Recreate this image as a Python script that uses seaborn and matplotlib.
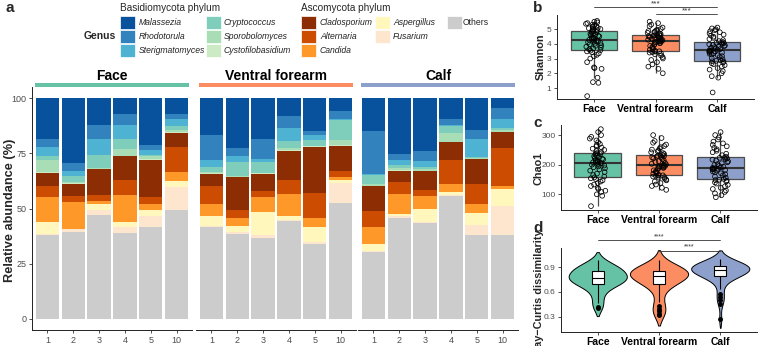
import matplotlib
matplotlib.use("Agg")
import numpy as np
import pandas as pd
import matplotlib.pyplot as plt
from matplotlib.patches import Rectangle
import seaborn as sns

# ---- data ----
sites = ["Face", "Ventral forearm", "Calf"]
site_colors = ["#66c2a5", "#fc8d62", "#8da0cb"]
samples = ["1", "2", "3", "4", "5", "10"]

genera = ["Malassezia", "Rhodotorula", "Sterigmatomyces", "Cryptococcus",
          "Sporobolomyces", "Cystofilobasidium", "Cladosporium", "Alternaria",
          "Candida", "Aspergillus", "Fusarium", "Others"]
genus_colors = ["#08519c", "#3182bd", "#4eb3d3", "#7fcdbb", "#a8ddb5", "#ccebc5",
                "#8c2d04", "#cc4c02", "#fe9929", "#fff7bc", "#fee6ce", "#cccccc"]

# relative abundance (%), order: Face 1,2,3,4,5,10 | Ventral forearm ... | Calf ...
malassezia = [18.4, 29.5, 12.4, 7.3, 21.1, 7.1, 16.9, 22.7, 18.4, 8.0, 14.8, 6.0, 15.1, 25.2, 23.9, 9.5, 14.4, 4.5]
rhodotorula = [3.8, 3.4, 6.2, 4.8, 2.3, 2.4, 11.3, 3.4, 9.1, 5.3, 1.8, 3.5, 19.3, 2.7, 4.8, 2.8, 4.2, 5.0]
sterigmatomyces = [4.2, 2.3, 7.1, 6.5, 2.3, 3.0, 2.8, 2.9, 1.2, 6.0, 2.3, 0.3, 0.3, 2.3, 2.7, 0.5, 8.1, 4.0]
cryptococcus = [1.8, 3.0, 6.0, 4.5, 0.7, 1.9, 2.7, 6.2, 5.1, 3.0, 2.7, 9.4, 4.3, 1.5, 0.8, 3.0, 0.3, 1.0]
sporobolomyces = [5.5, 0.5, 0.3, 3.0, 1.2, 1.0, 0.4, 0.5, 0.3, 1.0, 0.3, 2.1, 0.7, 0.9, 0.7, 4.0, 0.5, 0.8]
cystofilobasidium = [0.3, 0.3, 0.2, 0.3, 0.3, 0.3, 0.2, 0.3, 0.2, 0.3, 0.3, 0.3, 0.3, 0.3, 0.2, 0.3, 0.3, 0.2]
cladosporium = [5.6, 5.5, 11.6, 10.9, 16.7, 6.3, 5.7, 14.8, 7.9, 13.3, 20.9, 11.2, 11.1, 5.2, 8.6, 8.1, 11.3, 7.0]
alternaria = [5.4, 2.5, 2.7, 6.5, 3.3, 11.3, 7.9, 3.8, 2.7, 5.9, 11.3, 3.0, 7.4, 5.3, 2.6, 10.6, 9.1, 17.5]
candida = [11.3, 12.3, 1.4, 12.5, 3.0, 4.3, 5.7, 3.5, 6.8, 10.2, 3.8, 1.5, 7.5, 9.0, 6.1, 3.8, 3.9, 1.0]
aspergillus = [5.2, 0.3, 3.0, 2.2, 2.7, 2.5, 4.1, 2.5, 10.4, 1.5, 7.1, 1.2, 3.2, 1.2, 5.8, 1.4, 5.6, 8.0]
fusarium = [0.4, 1.0, 2.0, 2.4, 4.6, 10.6, 0.5, 1.1, 1.2, 0.4, 0.7, 8.8, 0.3, 0.8, 0.3, 0.3, 4.5, 13.0]
others = [38.1, 39.6, 47.1, 39.1, 41.8, 49.4, 41.8, 38.5, 36.6, 44.1, 34.0, 52.7, 30.5, 45.6, 43.7, 55.7, 38.1, 38.0]

abundance = [malassezia, rhodotorula, sterigmatomyces, cryptococcus, sporobolomyces,
             cystofilobasidium, cladosporium, alternaria, candida, aspergillus, fusarium, others]

shannon_face = [0.45, 1.35, 1.4, 1.7, 2.3, 2.35, 2.4, 2.75, 3.0, 3.15, 3.25, 3.35, 3.42, 3.48, 3.53,
                3.57, 3.62, 3.68, 3.75, 3.8, 3.86, 3.9, 3.96, 4.0, 4.05, 4.1, 4.14, 4.18, 4.21, 4.24,
                4.27, 4.32, 4.36, 4.4, 4.45, 4.5, 4.54, 4.58, 4.62, 4.66, 4.7, 4.75, 4.8, 4.84, 4.88,
                4.92, 4.96, 5.0, 5.05, 5.08, 5.12, 5.16, 5.2, 5.25, 5.3, 5.35, 5.4, 5.45, 5.5, 5.55]
shannon_forearm = [2.0, 2.3, 2.45, 2.6, 2.75, 2.9, 3.0, 3.1, 3.2, 3.28, 3.34, 3.4, 3.44, 3.47, 3.49,
                   3.52, 3.58, 3.65, 3.72, 3.8, 3.86, 3.92, 3.98, 4.03, 4.07, 4.1, 4.13, 4.16, 4.18, 4.19,
                   4.21, 4.24, 4.27, 4.3, 4.33, 4.36, 4.39, 4.42, 4.45, 4.48, 4.5, 4.53, 4.55, 4.57, 4.59,
                   4.62, 4.66, 4.7, 4.74, 4.78, 4.82, 4.86, 4.9, 4.95, 5.0, 5.1, 5.2, 5.3, 5.4, 5.5]
shannon_calf = [0.7, 1.7, 1.8, 2.0, 2.15, 2.25, 2.35, 2.45, 2.55, 2.62, 2.68, 2.73, 2.78, 2.81, 2.84,
                2.87, 2.95, 3.02, 3.1, 3.16, 3.22, 3.27, 3.32, 3.36, 3.4, 3.44, 3.47, 3.5, 3.52, 3.54,
                3.56, 3.6, 3.64, 3.68, 3.72, 3.76, 3.8, 3.84, 3.88, 3.92, 3.96, 4.0, 4.04, 4.07, 4.09,
                4.12, 4.18, 4.25, 4.32, 4.4, 4.48, 4.55, 4.62, 4.7, 4.78, 4.85, 4.92, 4.98, 5.04, 5.1]

chao1_face = [60, 95, 100, 108, 112, 118, 122, 128, 133, 138, 143, 147, 151, 154, 157,
              160, 165, 170, 175, 180, 184, 188, 191, 194, 197, 200, 202, 204, 205, 206,
              208, 210, 212, 214, 216, 218, 220, 222, 225, 228, 231, 234, 236, 238, 239,
              242, 246, 250, 254, 258, 262, 266, 270, 276, 282, 288, 294, 300, 310, 320]
chao1_forearm = [115, 122, 128, 133, 138, 143, 147, 150, 153, 156, 158, 160, 162, 163, 164,
                 166, 169, 172, 175, 178, 181, 184, 187, 189, 191, 193, 194, 195, 196, 197,
                 199, 201, 203, 206, 209, 212, 215, 218, 221, 223, 225, 227, 229, 230, 231,
                 233, 236, 239, 242, 245, 248, 251, 255, 259, 263, 268, 274, 280, 290, 300]
chao1_calf = [90, 97, 103, 108, 113, 118, 122, 127, 132, 136, 140, 143, 146, 148, 149,
              152, 156, 160, 164, 168, 171, 174, 177, 180, 182, 184, 185, 186, 187, 187.5,
              189, 191, 193, 196, 199, 202, 205, 208, 211, 214, 217, 219, 221, 223, 224,
              227, 232, 237, 242, 247, 252, 257, 262, 267, 272, 278, 285, 292, 300, 310]

bc_face = [0.41, 0.42, 0.47, 0.52, 0.57, 0.61, 0.64, 0.66, 0.68, 0.69,
           0.705, 0.71, 0.72, 0.73, 0.735, 0.74, 0.75, 0.755, 0.76, 0.765,
           0.775, 0.78, 0.79, 0.80, 0.81, 0.82, 0.83, 0.84, 0.85, 0.855,
           0.865, 0.87, 0.88, 0.89, 0.90, 0.91, 0.92, 0.94, 0.96, 0.98]
bc_forearm = [0.32, 0.34, 0.37, 0.40, 0.43, 0.48, 0.56, 0.62, 0.66, 0.69,
              0.705, 0.715, 0.725, 0.735, 0.745, 0.755, 0.765, 0.775, 0.78, 0.785,
              0.795, 0.80, 0.81, 0.815, 0.82, 0.83, 0.835, 0.84, 0.85, 0.855,
              0.865, 0.87, 0.875, 0.88, 0.885, 0.89, 0.90, 0.92, 0.95, 0.98]
bc_calf = [0.27, 0.46, 0.50, 0.54, 0.58, 0.64, 0.70, 0.74, 0.76, 0.77, 0.78, 0.785,
           0.795, 0.80, 0.81, 0.82, 0.83, 0.835, 0.84, 0.845, 0.85, 0.852, 0.855, 0.858,
           0.862, 0.866, 0.87, 0.875, 0.88, 0.885, 0.89, 0.895, 0.90, 0.905, 0.91, 0.915,
           0.922, 0.925, 0.93, 0.935, 0.94, 0.945, 0.95, 0.955, 0.96, 0.97, 0.985, 1.0]


def long_df(groups):
    rows = [(s, v) for s, vals in zip(sites, groups) for v in vals]
    return pd.DataFrame(rows, columns=["site", "value"])


df_shannon = long_df([shannon_face, shannon_forearm, shannon_calf])
df_chao1 = long_df([chao1_face, chao1_forearm, chao1_calf])
df_bc = long_df([bc_face, bc_forearm, bc_calf])

# ---- figure ----
sns.set_theme(style="white")
plt.rcParams["font.family"] = ["Liberation Sans", "DejaVu Sans"]

W, H = 760, 346
fig = plt.figure(figsize=(W / 100, H / 100), dpi=100)
TXT = "#4d4d4d"


def px_axes(l, t, r, b):
    return fig.add_axes([l / W, 1 - b / H, (r - l) / W, (b - t) / H])


def style_axes(ax, ysize=6.5):
    sns.despine(ax=ax)
    for sp in ("left", "bottom"):
        ax.spines[sp].set_color("#222222")
        ax.spines[sp].set_linewidth(0.7)
    ax.tick_params(axis="both", length=2.5, width=0.6, color="#333333", pad=1.5,
                   labelsize=6.5, labelcolor=TXT, bottom=True, left=True)
    ax.tick_params(axis="y", labelsize=ysize)


# panel a: stacked bars per site, each sample scaled to 100 %
table = np.array(abundance)
table = table / table.sum(axis=0) * 100
facet_px = [(32, 192), (196, 356), (358, 518)]
x = np.arange(len(samples))
for i, (site, (l, r)) in enumerate(zip(sites, facet_px)):
    ax = px_axes(l, 87, r, 330)
    bottom = np.zeros(len(samples))
    for g in range(len(genera) - 1, -1, -1):
        vals = table[g, i * 6:(i + 1) * 6]
        ax.bar(x, vals, bottom=bottom, width=0.9, color=genus_colors[g], linewidth=0)
        bottom += vals
    ax.set_xlim(-0.6, 5.6)
    ax.set_ylim(-5, 105)
    style_axes(ax)
    ax.set_xticks(x)
    ax.set_xticklabels(samples)
    if i == 0:
        ax.set_yticks([0, 25, 50, 75, 100])
    else:
        ax.spines["left"].set_visible(False)
        ax.set_yticks([])
    ax.add_patch(Rectangle((0.02, 1.0), 0.96, 0.017, transform=ax.transAxes,
                           color=site_colors[i], clip_on=False, lw=0))
    ax.text(0.5, 1.047, site, transform=ax.transAxes, ha="center", va="center",
            fontsize=10, fontweight="bold", color="black")

fig.text(10 / W, 1 - 210 / H, "Relative abundance (%)", rotation=90, ha="center",
         va="center", fontsize=9.2, fontweight="bold")

# legend
fig.text(84 / W, 1 - 36 / H, "Genus", fontsize=7.5, fontweight="bold", va="center")
fig.text(120 / W, 1 - 8 / H, "Basidiomycota phylum", fontsize=7.2, va="center")
fig.text(301 / W, 1 - 8 / H, "Ascomycota phylum", fontsize=7.2, va="center")
legend_cols = [(120, 139, [0, 1, 2]), (206, 224, [3, 4, 5]), (301, 320, [6, 7, 8]),
               (375, 393, [9, 10]), (447, 463, [11])]
row_y = [22.5, 36.5, 50.5]
for kx, tx, idxs in legend_cols:
    for rr, gi in enumerate(idxs):
        fig.add_artist(Rectangle((kx / W, 1 - (row_y[rr] + 6.5) / H), 15 / W, 13 / H,
                                 facecolor=genus_colors[gi], edgecolor="white", lw=0.5,
                                 transform=fig.transFigure))
        fig.text(tx / W, 1 - row_y[rr] / H, genera[gi], fontsize=6.2, va="center",
                 color="#222222", style="normal" if genera[gi] == "Others" else "italic")


def box_jitter(ax, df):
    sns.boxplot(data=df, x="site", y="value", hue="site", order=sites, hue_order=sites,
                palette=site_colors, saturation=1, width=0.76, linecolor="#4d4d4d",
                linewidth=0.9, showfliers=False, showcaps=False, legend=False, ax=ax,
                medianprops={"color": "#333333", "linewidth": 1.5})
    n0 = len(ax.collections)
    np.random.seed(7)
    sns.stripplot(data=df, x="site", y="value", order=sites, jitter=0.13, size=3.4,
                  color="black", linewidth=0.55, edgecolor="black", ax=ax)
    for c in ax.collections[n0:]:
        c.set_facecolor("none")
        c.set_edgecolor("black")


def finish_cat(ax, ylabel, lx, ly):
    style_axes(ax, ysize=6)
    ax.set_xlim(-0.6, 2.6)
    ax.set_xlabel("")
    ax.set_ylabel("")
    ax.tick_params(axis="x", labelsize=7.5, labelcolor="black", pad=0.8)
    for lab in ax.get_xticklabels():
        lab.set_fontweight("bold")
    fig.text(lx / W, 1 - ly / H, ylabel, rotation=90, ha="center", va="center",
             fontsize=7.8, fontweight="bold")


def sig(ax, x0, x1, y, label, fs):
    ax.plot([x0, x1], [y, y], color="#333333", lw=0.6, clip_on=False)
    ax.text((x0 + x1) / 2, y, label, ha="center", va="bottom", fontsize=fs, color="#333333")


# panel b
axb = px_axes(557, 15, 754, 99.3)
box_jitter(axb, df_shannon)
axb.set_ylim(0.234, 5.95)
axb.set_yticks([1, 2, 3, 4, 5])
finish_cat(axb, "Shannon", 541, 57)
sig(axb, 0, 2, 6.49, "***", 6)
sig(axb, 1, 2, 6.02, "***", 6)

# panel c
axc = px_axes(561, 125, 757, 210)
box_jitter(axc, df_chao1)
axc.set_ylim(47, 334)
axc.set_yticks([100, 200, 300])
finish_cat(axc, "Chao1", 538, 168)

# panel d
axd = px_axes(561, 248, 757, 332)
sns.violinplot(data=df_bc, x="site", y="value", hue="site", order=sites, hue_order=sites,
               palette=site_colors, saturation=1, inner=None, cut=1.5, width=0.95,
               density_norm="area", linewidth=0.7, linecolor="black", legend=False, ax=axd)
sns.boxplot(data=df_bc, x="site", y="value", order=sites, color="white", saturation=1,
            width=0.2, linecolor="black", linewidth=0.8, showcaps=False, fliersize=2.5,
            flierprops={"marker": "o", "markerfacecolor": "black", "markeredgecolor": "black"},
            ax=axd)
axd.set_ylim(0.118, 1.13)
axd.set_yticks([0.3, 0.6, 0.9])
finish_cat(axd, "Bray\u2212Curtis dissimilarity", 539, 294)
sig(axd, 0, 2, 1.225, "****", 5)
sig(axd, 1, 2, 1.098, "****", 5)

# panel letters
for lab, lx, ly in [("a", 5, 8), ("b", 533, 8), ("c", 533, 123), ("d", 533, 228)]:
    fig.text(lx / W, 1 - ly / H, lab, fontsize=11, fontweight="bold", va="center")

fig.savefig("out.png", dpi=100)
